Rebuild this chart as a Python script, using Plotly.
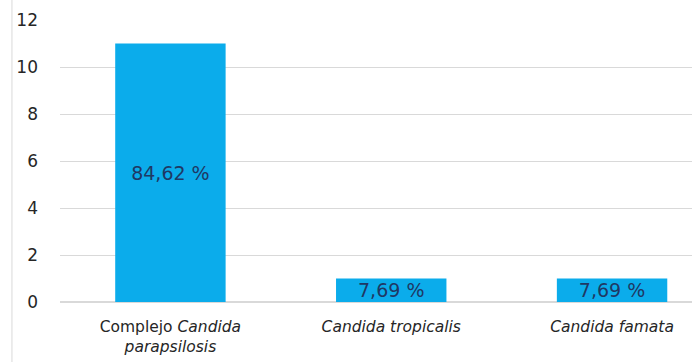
import plotly.graph_objects as go

categories = ["Complejo <i>Candida</i><br><i>parapsilosis</i>",
              "<i>Candida tropicalis</i>",
              "<i>Candida famata</i>"]
counts = [11, 1, 1]
pct_labels = ["84,62 %", "7,69 %", "7,69 %"]
y_ticks = [0, 2, 4, 6, 8, 10, 12]

fig = go.Figure()
fig.add_trace(go.Bar(
    x=categories, y=counts, text=pct_labels,
    textposition="inside", insidetextanchor="middle",
    constraintext="none",
    textfont=dict(family="DejaVu Sans", size=19, color="#1f3864"),
    marker=dict(color="#0BACEB", line=dict(width=0)),
    width=0.5,
))

fig.update_layout(
    width=692, height=362,
    margin=dict(l=60, r=0, t=20, b=60),
    paper_bgcolor="white", plot_bgcolor="white",
    showlegend=False,
    font=dict(family="DejaVu Sans", color="#404040"),
    xaxis=dict(range=[-0.5, 2.362], showgrid=False, showline=False,
               tickfont=dict(size=15.5, color="#262626"),
               ticklabelstandoff=13),
    yaxis=dict(range=[0, 12], tickvals=y_ticks, showgrid=True,
               gridcolor="#d9d9d9", gridwidth=1, zeroline=True,
               zerolinecolor="#d9d9d9", showline=False,
               tickfont=dict(size=17, color="#262626"),
               ticklabelstandoff=21),
    shapes=[dict(type="line", xref="paper", yref="paper",
                 x0=-0.076, x1=-0.076, y0=-0.25, y1=1.08,
                 line=dict(color="#d9d9d9", width=1))],
)

fig.write_html("out.html")
